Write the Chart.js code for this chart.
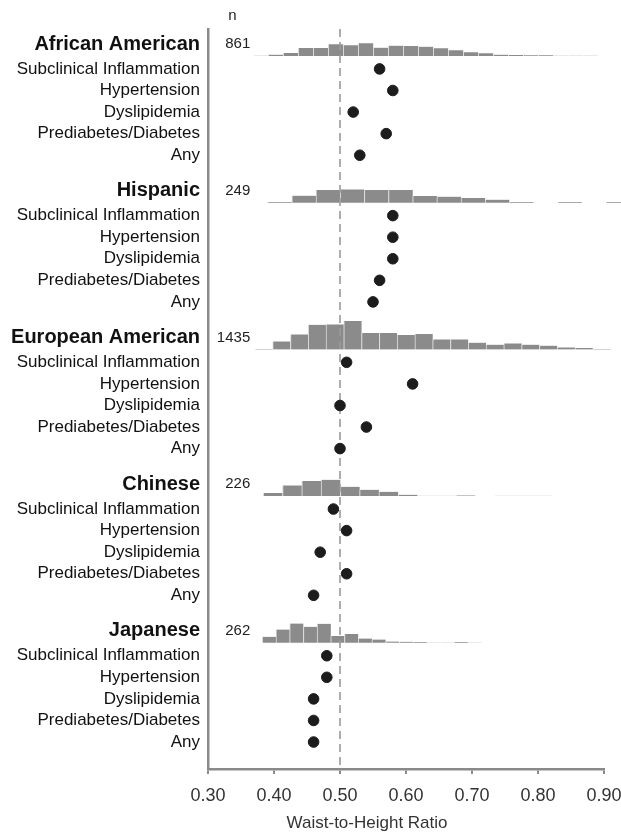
<!DOCTYPE html>
<html>
<head>
<meta charset="utf-8">
<title>Waist-to-Height Ratio cut-offs</title>
<script src="https://cdn.jsdelivr.net/npm/chart.js@4.4.1/dist/chart.umd.min.js"></script>
<style>
  html, body { margin: 0; padding: 0; background: #fff; }
</style>
</head>
<body>
<canvas id="whtrChart" width="621" height="836"></canvas>
<script>
// ===== DATA =====
const groups = ['African American', 'Hispanic', 'European American', 'Chinese', 'Japanese'];
const groupN = [861, 249, 1435, 226, 262];
const outcomes = ['Subclinical Inflammation', 'Hypertension', 'Dyslipidemia', 'Prediabetes/Diabetes', 'Any'];

// optimal WHtR cut-off per outcome (same order as outcomes)
const cutAfricanAmerican = [0.56, 0.58, 0.52, 0.57, 0.53];
const cutHispanic = [0.58, 0.58, 0.58, 0.56, 0.55];
const cutEuropeanAmerican = [0.51, 0.61, 0.50, 0.54, 0.50];
const cutChinese = [0.49, 0.51, 0.47, 0.51, 0.46];
const cutJapanese = [0.48, 0.48, 0.46, 0.46, 0.46];

// WHtR distributions: first bin edge, bin width, bar heights (relative frequency)
const histStart = [0.3686, 0.3905, 0.3711, 0.3838, 0.3823];
const histWidth = [0.02273, 0.03662, 0.02694, 0.0292, 0.02076];
const histAfricanAmerican = [0.3, 1.3, 3, 8, 8, 11.7, 10.7, 12.7, 8.3, 10.3, 10, 9.3, 7.7, 5.7, 3.7, 2.7, 1.3, 1, 0.7, 0.7, 0.3, 0.3, 0.3];
const histHispanic = [0.7, 7, 12.7, 13.3, 12.7, 12.7, 6.7, 6, 4.7, 3, 0.7, 0, 0.7, 0, 0.7];
const histEuropeanAmerican = [0.3, 8, 15, 24.7, 25, 28.3, 16.3, 16.3, 14.3, 15.3, 10, 10, 6.7, 4.7, 6, 4.7, 3.7, 2, 1.3, 0.3];
const histChinese = [3, 10.7, 15, 16.3, 9.3, 6.3, 4.3, 1.3, 0.3, 0.3, 0.7, 0, 0.3, 0.3, 0.3];
const histJapanese = [6, 13.3, 19.3, 16, 19, 6.7, 8.7, 4.3, 3.3, 1.3, 1, 0.7, 0.3, 0.3, 0.7, 0.3];

const xTicks = [0.30, 0.40, 0.50, 0.60, 0.70, 0.80, 0.90];
const refLine = 0.50;

const cuts = [cutAfricanAmerican, cutHispanic, cutEuropeanAmerican, cutChinese, cutJapanese];
const hists = [histAfricanAmerican, histHispanic, histEuropeanAmerican, histChinese, histJapanese];

// ===== LAYOUT (row units on the y axis) =====
const GROUP_STEP = 6.8;
const HEADER_ROW = 0.15;
const HIST_BASE = 0.7;
const FIRST_ROW = 1.3;
const ROW_STEP = 1.0;
const Y_MIN = -0.55;
const Y_MAX = 33.75;
const HIST_SCALE = 1 / 21.6;
const FONT = '"Liberation Sans", Arial, sans-serif';

const rowTicks = [];
groups.forEach((g, gi) => {
  rowTicks.push({ value: gi * GROUP_STEP + HEADER_ROW, label: g, header: true });
  outcomes.forEach((o, oi) => {
    rowTicks.push({ value: gi * GROUP_STEP + FIRST_ROW + oi * ROW_STEP, label: o, header: false });
  });
});

const datasets = [];

groups.forEach((g, gi) => {
  datasets.push({
    type: 'scatter',
    label: g,
    data: cuts[gi].map((v, oi) => ({ x: v, y: gi * GROUP_STEP + FIRST_ROW + oi * ROW_STEP })),
    backgroundColor: '#1c1c1c',
    borderColor: '#1c1c1c',
    pointRadius: 5.3,
    pointHoverRadius: 5.3,
    order: 0
  });
});

datasets.push({
  type: 'line',
  label: 'WHtR 0.5',
  data: [{ x: refLine, y: Y_MIN }, { x: refLine, y: Y_MAX }],
  borderColor: '#9a9a9a',
  borderWidth: 1.6,
  borderDash: [8, 5],
  pointRadius: 0,
  order: 1
});

groups.forEach((g, gi) => {
  const base = gi * GROUP_STEP + HIST_BASE;
  datasets.push({
    type: 'bar',
    label: g + ' distribution',
    binWidth: histWidth[gi],
    data: hists[gi].map((h, bi) => ({
      x: histStart[gi] + (bi + 0.5) * histWidth[gi],
      y: [base, base - h * HIST_SCALE]
    })),
    backgroundColor: '#8b8b8b',
    borderColor: '#dcdcdc',
    borderWidth: { left: 1, right: 0, top: 0, bottom: 0 },
    borderSkipped: false,
    grouped: false,
    barPercentage: 1,
    categoryPercentage: 1,
    clip: false,
    order: 2
  });
});

// ===== TEXT PLUGIN (n column, axis title) =====
const whtrText = {
  id: 'whtrText',
  afterDraw(chart) {
    const { ctx, chartArea } = chart;
    const x = chart.scales.x;
    const y = chart.scales.y;
    ctx.save();
    ctx.fillStyle = '#222';
    ctx.textBaseline = 'middle';
    ctx.font = '15px ' + FONT;
    ctx.textAlign = 'center';
    ctx.fillText('n', x.getPixelForValue(0.337), chartArea.top - 13);
    ctx.textAlign = 'right';
    groupN.forEach((n, gi) => {
      ctx.fillText(String(n), x.getPixelForValue(0.364), y.getPixelForValue(gi * GROUP_STEP + HEADER_ROW));
    });
    ctx.textAlign = 'center';
    ctx.font = '17px ' + FONT;
    ctx.fillStyle = '#333';
    ctx.fillText('Waist-to-Height Ratio', x.getPixelForValue(0.541), chartArea.bottom + 54);
    ctx.restore();
  }
};

const chart = new Chart(document.getElementById('whtrChart').getContext('2d'), {
  type: 'scatter',
  data: { datasets: datasets },
  options: {
    responsive: false,
    animation: false,
    devicePixelRatio: 1,
    layout: { padding: { top: 29, right: 17, bottom: 0, left: 0 } },
    plugins: {
      legend: { display: false },
      tooltip: { enabled: false }
    },
    scales: {
      x: {
        type: 'linear',
        position: 'bottom',
        min: 0.3,
        max: 0.9,
        offset: false,
        afterBuildTicks: function(scale) { scale.ticks = xTicks.map(v => ({ value: v })); },
        afterFit: function(scale) {
          scale.height = 67;
          scale.paddingLeft = 0;
          scale.paddingRight = 0;
        },
        ticks: {
          callback: function(v) { return v.toFixed(2); },
          color: '#333',
          padding: 11,
          maxRotation: 0,
          autoSkip: false,
          font: { family: FONT, size: 18 }
        },
        grid: { display: true, offset: false, drawOnChartArea: false, drawTicks: true, tickLength: 5, color: '#8a8a8a', lineWidth: 2 },
        border: { display: true, color: '#8a8a8a', width: 2.5 }
      },
      y: {
        type: 'linear',
        reverse: true,
        min: Y_MIN,
        max: Y_MAX,
        offset: false,
        afterBuildTicks: function(scale) { scale.ticks = rowTicks.map(r => ({ value: r.value })); },
        afterFit: function(scale) { scale.width = 208; },
        ticks: {
          autoSkip: false,
          padding: 8,
          color: '#111',
          callback: function(v, i) { return rowTicks[i] ? rowTicks[i].label : ''; },
          font: function(ctx) {
            const r = rowTicks[ctx.index];
            return r && r.header
              ? { family: FONT, size: 20, weight: 'bold' }
              : { family: FONT, size: 17 };
          }
        },
        grid: { display: false, drawTicks: false },
        border: { display: true, color: '#8a8a8a', width: 2.5 }
      }
    }
  },
  plugins: [whtrText]
});

// bar thickness = bin width on the x scale, once the layout is known
const xScale = chart.scales.x;
const pxPerUnit = xScale.getPixelForValue(1) - xScale.getPixelForValue(0);
chart.data.datasets.forEach(ds => {
  if (ds.binWidth) ds.barThickness = ds.binWidth * pxPerUnit;
});
chart.update('none');
</script>
</body>
</html>
